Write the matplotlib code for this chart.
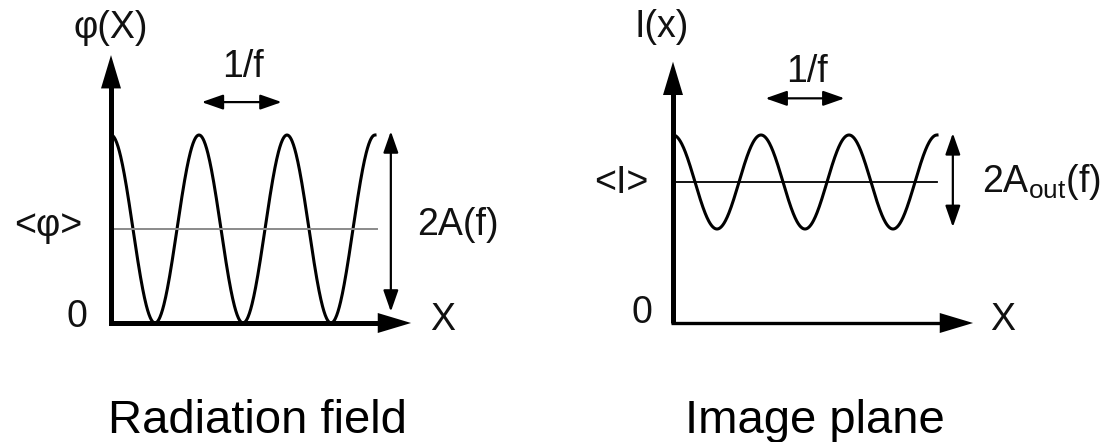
import numpy as np
import matplotlib.pyplot as plt

plt.rcParams['font.family'] = ['Liberation Sans', 'DejaVu Sans']
plt.rcParams['mathtext.fontset'] = 'custom'
plt.rcParams['mathtext.rm'] = 'Liberation Sans'
plt.rcParams['mathtext.it'] = 'Liberation Sans:italic'

# signal parameters (one period = 1 unit, x axis at 0)
n_periods = 3
field_mean, field_amp = 1.0, 1.0     # radiation field: full modulation
image_mean, image_amp = 1.5, 0.5     # image plane: reduced modulation

panel_titles = ['Radiation field', 'Image plane']
y_labels = ['φ(X)', 'I(x)']
mean_labels = ['<φ>', '<I>']
amp_labels = ['2A(f)', r'2A$_{\mathrm{out}}$(f)']
period_label = '1/f'
zero_label = '0'
x_label = 'X'

W, H = 1117, 442
PX_X, PX_Y = 88.0, 94.0   # pixels per unit
Y0 = 323                  # pixel row of the x axis


def make_axes(fig, left_px, width_px, origin_px):
    ax = fig.add_axes([left_px / W, 0, width_px / W, 1])
    ax.set_xlim((left_px - origin_px) / PX_X, (left_px + width_px - origin_px) / PX_X)
    ax.set_ylim((Y0 - H) / PX_Y, Y0 / PX_Y)
    ax.axis('off')
    return ax


def double_arrow(ax, p0, p1):
    ax.annotate('', xy=p1, xytext=p0,
                arrowprops=dict(arrowstyle='<|-|>,head_length=1.0,head_width=0.35',
                                mutation_scale=13, lw=1.6, color='black',
                                shrinkA=0, shrinkB=0))


fig = plt.figure(figsize=(W / 100, H / 100), dpi=100)
tcol = '#111111'
fs = 27
head = dict(arrowstyle='-|>,head_length=1.0,head_width=0.3', mutation_scale=24,
            lw=0.0, fc='black', ec='black', shrinkA=0, shrinkB=0)
x = np.linspace(0, n_periods, 600)

# ---- left panel: radiation field
ax = make_axes(fig, 0, 557, 111)
ax.plot(x, field_mean + field_amp * np.cos(2 * np.pi * x), color='black', lw=2.2)
ax.plot([0, 3.02], [field_mean, field_mean], color='#8a8a8a', lw=1.4)
ax.plot([0, 0, 3.2], [2.6, 0, 0], color='black', lw=3.6,
        solid_joinstyle='miter', solid_capstyle='butt')
ax.annotate('', xy=(3.41, 0), xytext=(3.0, 0), arrowprops=head)
ax.annotate('', xy=(0, 2.85), xytext=(0, 2.45), arrowprops=head)
double_arrow(ax, (1.03, 2.35), (1.94, 2.35))
double_arrow(ax, (3.18, 0.12), (3.18, 2.04))
ax.text(0, 3.03, y_labels[0], ha='center', va='baseline', fontsize=fs, color=tcol)
ax.text(1.5, 2.62, period_label, ha='center', va='baseline', fontsize=fs, color=tcol)
ax.text(-0.33, 0.93, mean_labels[0], ha='right', va='baseline', fontsize=fs, color=tcol)
ax.text(-0.39, -0.04, zero_label, ha='center', va='baseline', fontsize=fs, color=tcol)
ax.text(3.77, -0.07, x_label, ha='center', va='baseline', fontsize=fs, color=tcol)
ax.text(3.48, 0.94, amp_labels[0], ha='left', va='baseline', fontsize=fs, color=tcol)
ax.text(1.66, -1.17, panel_titles[0], ha='center', va='baseline', fontsize=34, color='black')

# ---- right panel: image plane
ax = make_axes(fig, 557, 560, 673)
ax.plot(x, image_mean + image_amp * np.cos(2 * np.pi * x), color='black', lw=2.2)
ax.plot([0, 3.0], [image_mean, image_mean], color='black', lw=1.3)
ax.plot([0, 0], [2.55, 0], color='black', lw=3.6, solid_capstyle='butt')
ax.plot([-0.02, 3.2], [0.0, 0.0], color='black', lw=2.4, solid_capstyle='butt')
ax.annotate('', xy=(3.41, 0), xytext=(3.0, 0), arrowprops=head)
ax.annotate('', xy=(0, 2.78), xytext=(0, 2.4), arrowprops=head)
double_arrow(ax, (1.05, 2.39), (1.95, 2.39))
double_arrow(ax, (3.18, 1.02), (3.18, 2.02))
ax.text(-0.125, 3.04, y_labels[1], ha='center', va='baseline', fontsize=fs, color=tcol)
ax.text(1.52, 2.56, period_label, ha='center', va='baseline', fontsize=fs, color=tcol)
ax.text(-0.28, 1.38, mean_labels[1], ha='right', va='baseline', fontsize=fs, color=tcol)
ax.text(-0.35, 0.0, zero_label, ha='center', va='baseline', fontsize=fs, color=tcol)
ax.text(3.75, -0.07, x_label, ha='center', va='baseline', fontsize=fs, color=tcol)
ax.text(3.51, 1.39, amp_labels[1], ha='left', va='baseline', fontsize=fs, color=tcol)
ax.text(1.61, -1.17, panel_titles[1], ha='center', va='baseline', fontsize=34, color='black')

fig.savefig('out.png', dpi=100, facecolor='white')
